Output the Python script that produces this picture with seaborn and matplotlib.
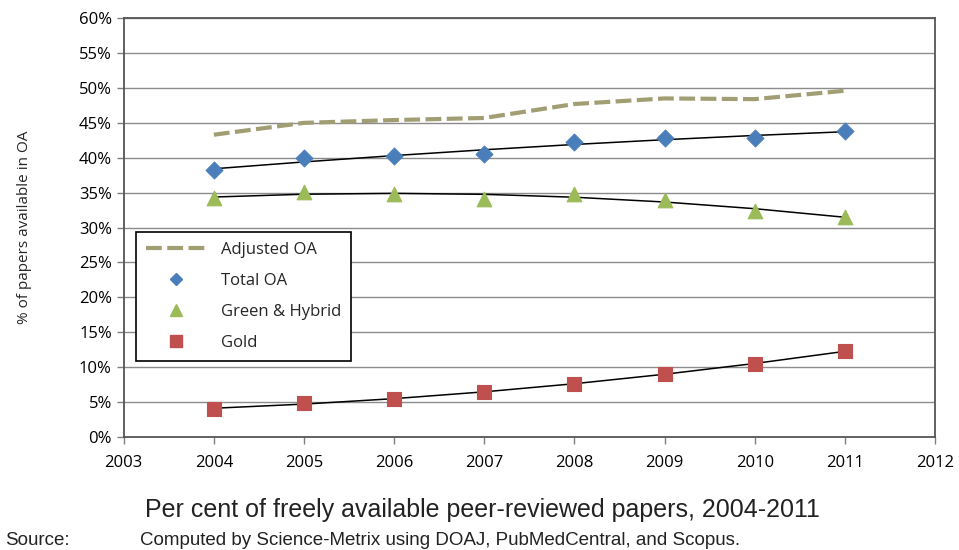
import numpy as np
import pandas as pd
import matplotlib
matplotlib.use("Agg")
import matplotlib.pyplot as plt
from matplotlib.lines import Line2D
import seaborn as sns

years = [2004, 2005, 2006, 2007, 2008, 2009, 2010, 2011]
adjusted_oa = [43.3, 45.0, 45.4, 45.7, 47.7, 48.5, 48.4, 49.6]
total_oa = [38.2, 39.9, 40.3, 40.5, 42.2, 42.9, 42.9, 43.8]
green_hybrid = [34.3, 35.1, 34.8, 34.1, 34.8, 34.0, 32.4, 31.5]
gold = [4.0, 4.9, 5.5, 6.4, 7.6, 9.0, 10.5, 12.3]

yticks = list(range(0, 61, 5))
xticks = list(range(2003, 2013))

c_adj = "#A19E74"
c_tot = "#4A7EBB"
c_grn = "#9BBB59"
c_gld = "#C0504D"

sns.set_theme(style="white")
plt.rcParams["font.family"] = ["Open Sans", "DejaVu Sans"]

fig = plt.figure(figsize=(9.59, 5.50), dpi=100)
ax = fig.add_axes([0.129, 0.2055, 0.846, 0.7615])

df = pd.DataFrame({"year": years, "adj": adjusted_oa, "tot": total_oa,
                   "grn": green_hybrid, "gld": gold})

for yv in yticks[1:]:
    ax.axhline(yv, color="#8C8C8C", lw=1.0, zorder=0)

# trend lines (polynomial fits of the series)
for col in ["tot", "grn", "gld"]:
    coef = np.polyfit(df["year"], df[col], 2)
    df[col + "_fit"] = np.polyval(coef, df["year"])
    sns.lineplot(data=df, x="year", y=col + "_fit", ax=ax, color="black",
                 lw=1.1, zorder=3)

sns.lineplot(data=df, x="year", y="adj", ax=ax, color=c_adj, lw=3.0,
             dashes=False, zorder=2).lines[-1].set_dashes([3.8, 1.3])

sns.scatterplot(data=df, x="year", y="tot", ax=ax, marker="D", s=75,
                color=c_tot, edgecolor=c_tot, zorder=4)
sns.scatterplot(data=df, x="year", y="grn", ax=ax, marker="^", s=110,
                color=c_grn, edgecolor=c_grn, zorder=4)
sns.scatterplot(data=df, x="year", y="gld", ax=ax, marker="s", s=100,
                color=c_gld, edgecolor=c_gld, zorder=4)

ax.set_xlim(2003, 2012)
ax.set_ylim(0, 60)
ax.set_xticks(xticks)
ax.set_xticklabels([str(x) for x in xticks])
ax.set_yticks(yticks)
ax.set_yticklabels([f"{v}%" for v in yticks])
ax.tick_params(axis="both", which="both", direction="out", length=5,
               width=1, color="#7F7F7F", labelsize=12, labelcolor="black",
               bottom=True, left=True)
ax.tick_params(axis="x", pad=8)
ax.set_xlabel("")
ax.set_ylabel("% of papers available in OA", fontsize=11, labelpad=34)
for s in ax.spines.values():
    s.set_color("#555555")
    s.set_linewidth(1.3)

handles = [
    Line2D([0], [0], color=c_adj, lw=3.0, dashes=[3.8, 1.3]),
    Line2D([0], [0], color=c_tot, marker="D", ls="none", markersize=6),
    Line2D([0], [0], color=c_grn, marker="^", ls="none", markersize=8),
    Line2D([0], [0], color=c_gld, marker="s", ls="none", markersize=8),
]
labels = ["Adjusted OA", "Total OA", "Green & Hybrid", "Gold"]
leg = ax.legend(handles, labels, loc="upper left",
                bbox_to_anchor=(0.0148, 0.489), borderaxespad=0,
                fontsize=12, frameon=True, fancybox=False,
                edgecolor="black", framealpha=1, handlelength=3.6,
                labelspacing=0.9, borderpad=0.6, handletextpad=0.9)
leg.get_frame().set_linewidth(1.2)

fig.text(0.503, 0.073, "Per cent of freely available peer-reviewed papers, 2004-2011",
         ha="center", va="center", fontsize=18, family="Liberation Sans",
         color="#222222")
fig.text(0.005, 0.018, "Source:", ha="left", va="center", fontsize=13.5,
         family="Liberation Sans", color="#222222")
fig.text(0.146, 0.018,
         "Computed by Science-Metrix using DOAJ, PubMedCentral, and Scopus.",
         ha="left", va="center", fontsize=13.5, family="Liberation Sans",
         color="#222222")

fig.savefig("out.png", dpi=100)
